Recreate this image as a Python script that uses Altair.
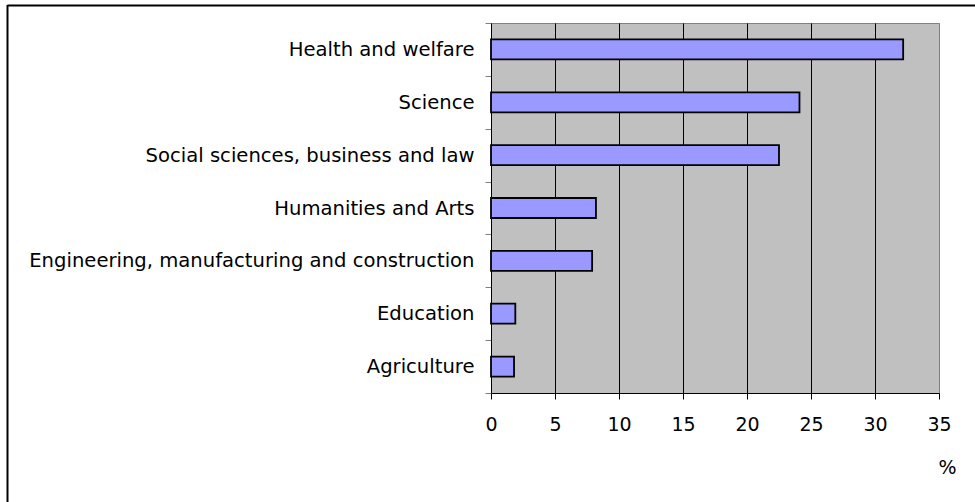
import altair as alt
import pandas as pd

fields = [
    "Health and welfare",
    "Science",
    "Social sciences, business and law",
    "Humanities and Arts",
    "Engineering, manufacturing and construction",
    "Education",
    "Agriculture",
]
shares = [32.2, 24.1, 22.5, 8.2, 7.9, 1.9, 1.8]
x_ticks = [0, 5, 10, 15, 20, 25, 30, 35]

df = pd.DataFrame({"field": fields, "share": shares})

FONT = "DejaVu Sans"
W, H = 448, 370
LEFT, TOP = 491, 23

bars = alt.Chart(df).mark_bar(
    size=20, fill="#9999FF", stroke="#000000", strokeWidth=1.8
).encode(
    x=alt.X(
        "share:Q",
        scale=alt.Scale(domain=[0, 35], nice=False, zero=True),
        axis=alt.Axis(
            values=x_ticks,
            title="%",
            grid=True,
            gridColor={"condition": {"test": "datum.value === 35", "value": "#808080"}, "value": "#000000"},
            gridWidth=1,
            gridOpacity=1,
            domainColor="#000000",
            tickColor="#000000",
            tickSize=6,
            labelPadding=16,
            labelFont=FONT,
            labelFontSize=19,
            labelColor="#000000",
            labelFlush=False,
            titleFont=FONT,
            titleFontSize=19,
            titleFontWeight="normal",
            titleColor="#000000",
            titleX=456,
            titleY=74,
            titleAlign="center",
            titleBaseline="middle",
            titleAngle=0,
        ),
    ),
    y=alt.Y(
        "field:N",
        sort=fields,
        scale=alt.Scale(paddingInner=0, paddingOuter=0),
        axis=alt.Axis(
            title=None,
            tickBand="extent",
            domainColor="#000000",
            tickColor="#808080",
            tickSize=6,
            labelPadding=11,
            labelFont=FONT,
            labelFontSize=19.6,
            labelColor="#000000",
            labelLimit=1000,
            grid=False,
        ),
    ),
)

frame_df = pd.DataFrame({"k": [0]})
left_line = alt.Chart(frame_df).mark_rule(color="#000000", strokeWidth=2).encode(
    x=alt.value(7.5 - LEFT), y=alt.value(5 - TOP), y2=alt.value(502 - TOP)
)
top_line = alt.Chart(frame_df).mark_rule(color="#000000", strokeWidth=2).encode(
    x=alt.value(7.5 - LEFT), x2=alt.value(975 - LEFT), y=alt.value(5.5 - TOP)
)

chart = alt.layer(bars, left_line, top_line).properties(
    width=W,
    height=H,
    autosize=alt.AutoSizeParams(type="none"),
    padding={"left": LEFT, "top": TOP, "right": 975 - LEFT - W, "bottom": 502 - TOP - H},
    background="#FFFFFF",
).configure_view(fill="#C0C0C0", stroke="#808080", strokeWidth=1)

chart.save("out.html", embed_options={"renderer": "svg", "actions": False})
